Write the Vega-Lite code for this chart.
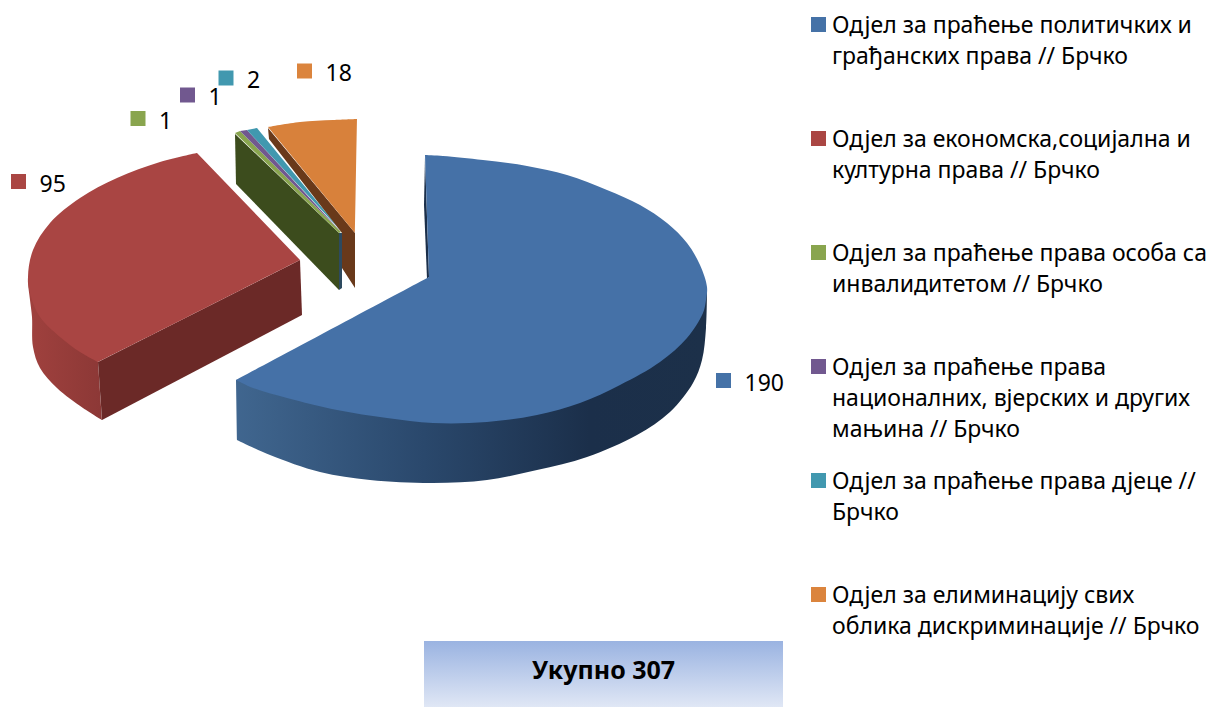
{"$schema":"https://vega.github.io/schema/vega-lite/v6.json","width":1221,"height":707,"padding":0,"autosize":"none","background":"white","config":{"view":{"stroke":null}},
"datasets":{
"slices":[
{"key":"a","name":"Одјел за праћење политичких и\nграђанских права // Брчко","value":190},
{"key":"b","name":"Одјел за економска,социјална и\nкултурна права // Брчко","value":95},
{"key":"c","name":"Одјел за праћење права особа са\nинвалидитетом // Брчко","value":1},
{"key":"d","name":"Одјел за праћење права\nнационалних, вјерских и других\nмањина // Брчко","value":1},
{"key":"e","name":"Одјел за праћење права дјеце //\nБрчко","value":2},
{"key":"f","name":"Одјел за елиминацију свих\nоблика дискриминације // Брчко","value":18}],
"anchors":[
{"key":"a","value":190,"x":2.955,"y":-1.025},
{"key":"b","value":95,"x":-4.095,"y":0.965},
{"key":"c","value":1,"x":-2.9,"y":1.595},
{"key":"d","value":1,"x":-2.405,"y":1.83},
{"key":"e","value":2,"x":-2.02,"y":2.0},
{"key":"f","value":18,"x":-1.235,"y":2.07}],
"total":[{"label":"Укупно 307","x":-0.04,"x2":3.55,"y":-3.63,"y2":-4.29,"cx":1.755,"cy":-3.93}],
"blueWall":[{"i":0,"x":2.79,"y":-0.12},{"i":1,"x":2.78,"y":-0.5},{"i":2,"x":2.74,"y":-0.82},{"i":3,"x":2.65,"y":-1.05},{"i":4,"x":2.42,"y":-1.34},{"i":5,"x":2.09,"y":-1.57},{"i":6,"x":1.59,"y":-1.79},{"i":7,"x":1.09,"y":-1.92},{"i":8,"x":0.59,"y":-2.02},{"i":9,"x":0.05,"y":-2.05},{"i":10,"x":-0.58,"y":-2.02},{"i":11,"x":-1.08,"y":-1.94},{"i":12,"x":-1.58,"y":-1.77},{"i":13,"x":-1.91,"y":-1.62},{"i":13.5,"x":-1.91,"y":-1.62},{"i":14,"x":-1.92,"y":-1.02}],
"blueSliver":[{"i":0,"x":-0.03,"y":1.21},{"i":1,"x":-0.04,"y":0.73},{"i":2,"x":-0.01,"y":-0.01},{"i":3,"x":0.01,"y":0.01}],
"blueTop":[{"i":0,"x":-0.03,"y":1.23},{"i":1,"x":0.15,"y":1.22},{"i":2,"x":0.55,"y":1.18},{"i":3,"x":0.99,"y":1.12},{"i":4,"x":1.39,"y":1.03},{"i":5,"x":1.79,"y":0.88},{"i":6,"x":2.12,"y":0.73},{"i":7,"x":2.39,"y":0.55},{"i":8,"x":2.59,"y":0.35},{"i":9,"x":2.72,"y":0.13},{"i":10,"x":2.79,"y":-0.09},{"i":11,"x":2.78,"y":-0.22},{"i":12,"x":2.75,"y":-0.35},{"i":13,"x":2.59,"y":-0.6},{"i":14,"x":2.32,"y":-0.84},{"i":15,"x":1.92,"y":-1.07},{"i":16,"x":1.52,"y":-1.25},{"i":17,"x":1.09,"y":-1.37},{"i":18,"x":0.59,"y":-1.44},{"i":19,"x":0.05,"y":-1.45},{"i":20,"x":-0.41,"y":-1.4},{"i":21,"x":-0.91,"y":-1.32},{"i":22,"x":-1.41,"y":-1.2},{"i":23,"x":-1.75,"y":-1.1},{"i":24,"x":-1.92,"y":-1.02},{"i":24.5,"x":-1.92,"y":-1.02},{"i":25,"x":0.01,"y":0.01}],
"redCurve":[{"i":0,"x":-4.0,"y":0.01},{"i":1,"x":-4.0,"y":-0.05},{"i":1.5,"x":-3.98,"y":-0.22},{"i":2,"x":-3.96,"y":-0.39},{"i":3,"x":-3.95,"y":-0.69},{"i":4,"x":-3.88,"y":-0.9},{"i":5,"x":-3.71,"y":-1.1},{"i":6,"x":-3.45,"y":-1.3},{"i":7,"x":-3.26,"y":-1.42},{"i":7.5,"x":-3.26,"y":-1.42},{"i":8,"x":-3.3,"y":-0.84}],
"redFront":[{"i":0,"x":-3.3,"y":-0.84},{"i":1,"x":-1.28,"y":0.18},{"i":2,"x":-1.26,"y":-0.37},{"i":3,"x":-3.26,"y":-1.42}],
"redTop":[{"i":0,"x":-2.31,"y":1.25},{"i":1,"x":-2.68,"y":1.16},{"i":2,"x":-3.11,"y":1.0},{"i":3,"x":-3.48,"y":0.8},{"i":4,"x":-3.78,"y":0.55},{"i":5,"x":-3.95,"y":0.28},{"i":6,"x":-4.0,"y":0.01},{"i":7,"x":-3.97,"y":-0.19},{"i":8,"x":-3.88,"y":-0.39},{"i":9,"x":-3.68,"y":-0.59},{"i":10,"x":-3.48,"y":-0.74},{"i":11,"x":-3.3,"y":-0.84},{"i":11.5,"x":-3.3,"y":-0.84},{"i":12,"x":-1.28,"y":0.18}],
"greenWall":[{"i":0,"x":-1.93,"y":1.44},{"i":1,"x":-1.92,"y":0.94},{"i":2,"x":-0.89,"y":-0.12},{"i":3,"x":-0.89,"y":0.45}],
"endWall":[{"i":0,"x":-0.89,"y":0.45},{"i":1,"x":-0.86,"y":0.45},{"i":2,"x":-0.86,"y":-0.1},{"i":3,"x":-0.89,"y":-0.12}],
"greenTop":[{"i":0,"x":-1.93,"y":1.45},{"i":1,"x":-1.88,"y":1.47},{"i":2,"x":-0.87,"y":0.46},{"i":3,"x":-0.89,"y":0.45}],
"purpleTop":[{"i":0,"x":-1.88,"y":1.47},{"i":1,"x":-1.81,"y":1.48},{"i":2,"x":-0.87,"y":0.46}],
"tealTop":[{"i":0,"x":-1.81,"y":1.48},{"i":1,"x":-1.71,"y":1.5},{"i":2,"x":-0.86,"y":0.46}],
"brownWall":[{"i":0,"x":-1.6,"y":1.5},{"i":1,"x":-0.73,"y":0.45},{"i":2,"x":-0.73,"y":-0.1},{"i":3,"x":-0.86,"y":0.1},{"i":4,"x":-0.86,"y":0.45},{"i":5,"x":-1.59,"y":1.39}],
"orangeTop":[{"i":0,"x":-1.6,"y":1.51},{"i":1,"x":-1.28,"y":1.56},{"i":2,"x":-0.95,"y":1.58},{"i":3,"x":-0.71,"y":1.59},{"i":3.5,"x":-0.71,"y":1.59},{"i":4,"x":-0.73,"y":0.45}]
},
"layer":[
{"encoding":{"x":{"field":"x","type":"quantitative","axis":null,"scale":{"domain":[-4.28,7.93],"nice":false,"zero":false}},"y":{"field":"y","type":"quantitative","axis":null,"scale":{"domain":[-4.29,2.78],"nice":false,"zero":false}},"order":{"field":"i","type":"quantitative"}},
"layer":[
{"data":{"name":"blueSliver"},"mark":{"type":"line","filled":true,"fill":"#1b2f4a","stroke":null}},
{"data":{"name":"blueWall"},"mark":{"type":"line","interpolate":"catmull-rom","filled":true,"stroke":null,"fill":{"gradient":"linear","x1":0,"y1":0,"x2":1,"y2":0,"stops":[{"offset":0,"color":"#40668f"},{"offset":0.4,"color":"#2a486c"},{"offset":0.75,"color":"#1b2f4a"},{"offset":1,"color":"#1c3049"}]}}},
{"data":{"name":"blueTop"},"mark":{"type":"line","interpolate":"catmull-rom","filled":true,"fill":"#4571a7","stroke":null}},
{"data":{"name":"redCurve"},"mark":{"type":"line","interpolate":"catmull-rom","filled":true,"stroke":null,"fill":{"gradient":"linear","x1":0,"y1":0,"x2":1,"y2":0,"stops":[{"offset":0,"color":"#a0413e"},{"offset":1,"color":"#8c3836"}]}}},
{"data":{"name":"redFront"},"mark":{"type":"line","filled":true,"fill":"#6b2927","stroke":null}},
{"data":{"name":"redTop"},"mark":{"type":"line","interpolate":"catmull-rom","filled":true,"fill":"#a94543","stroke":null}},
{"data":{"name":"greenWall"},"mark":{"type":"line","filled":true,"fill":"#3c4c1d","stroke":null}},
{"data":{"name":"endWall"},"mark":{"type":"line","filled":true,"fill":"#2d4a5f","stroke":null}},
{"data":{"name":"greenTop"},"mark":{"type":"line","filled":true,"fill":"#89a54e","stroke":null}},
{"data":{"name":"purpleTop"},"mark":{"type":"line","filled":true,"fill":"#71588f","stroke":null}},
{"data":{"name":"tealTop"},"mark":{"type":"line","filled":true,"fill":"#4198af","stroke":null}},
{"data":{"name":"brownWall"},"mark":{"type":"line","filled":true,"fill":"#69391a","stroke":null}},
{"data":{"name":"orangeTop"},"mark":{"type":"line","interpolate":"catmull-rom","filled":true,"fill":"#d8813b","stroke":null}},
{"data":{"name":"anchors"},"mark":{"type":"point","shape":"square","filled":true,"size":225,"opacity":1,"strokeWidth":0},"encoding":{"order":{"value":null},"color":{"field":"key","type":"nominal","legend":null,"scale":{"domain":["a","b","c","d","e","f"],"range":["#4572a7","#aa4643","#89a54e","#71588f","#4198af","#db843d"]}}}},
{"data":{"name":"anchors"},"mark":{"type":"text","align":"left","baseline":"middle","dx":21,"dy":3,"font":"Noto Sans","fontSize":23,"fill":"#000"},"encoding":{"order":{"value":null},"text":{"field":"value","type":"quantitative"}}},
{"data":{"name":"total"},"mark":{"type":"rect","stroke":null,"fill":{"gradient":"linear","x1":0,"y1":0,"x2":0,"y2":1,"stops":[{"offset":0,"color":"#9ab3e1"},{"offset":1,"color":"#e0e7f5"}]}},"encoding":{"order":{"value":null},"x2":{"field":"x2"},"y2":{"field":"y2"}}},
{"data":{"name":"total"},"mark":{"type":"text","align":"center","baseline":"middle","font":"Noto Sans","fontSize":25,"fontWeight":"bold","fill":"#000"},"encoding":{"order":{"value":null},"x":{"field":"cx","type":"quantitative"},"y":{"field":"cy","type":"quantitative"},"text":{"field":"label"}}}
]},
{"data":{"name":"slices"},"encoding":{"x":{"datum":3.905,"type":"quantitative","axis":null},"y":{"field":"name","type":"nominal","sort":null,"axis":null,"scale":{"type":"point","padding":0,"range":[24.5,594.5]}}},
"layer":[
{"mark":{"type":"point","shape":"square","filled":true,"size":225,"opacity":1,"strokeWidth":0},"encoding":{"color":{"field":"key","type":"nominal","legend":null,"scale":{"domain":["a","b","c","d","e","f"],"range":["#4572a7","#aa4643","#89a54e","#71588f","#4198af","#db843d"]}}}},
{"mark":{"type":"text","align":"left","baseline":"top","dy":-10,"lineBreak":"\n","lineHeight":31,"font":"Noto Sans","fontSize":23,"fill":"#000"},"encoding":{"x":{"datum":4.04,"type":"quantitative","axis":null},"text":{"field":"name"}}}
]}
],
"resolve":{"scale":{"y":"independent"}}}
